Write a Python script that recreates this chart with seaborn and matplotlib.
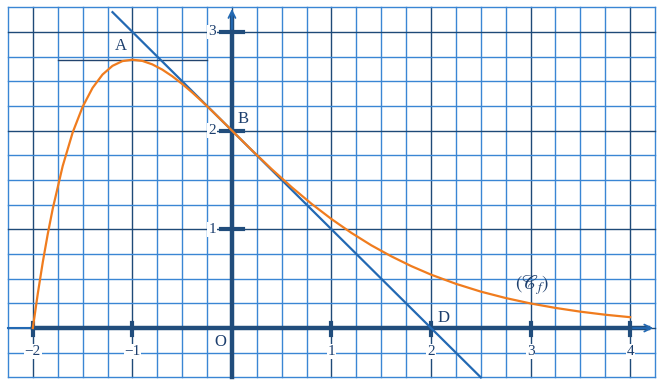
import numpy as np
import pandas as pd
import matplotlib.pyplot as plt
import seaborn as sns

# --- data ---
curve_x = [-2.0, -1.95, -1.9, -1.85, -1.8, -1.7, -1.6, -1.5, -1.4, -1.3, -1.2, -1.1,
           -1.0, -0.9, -0.8, -0.7, -0.6, -0.5, -0.4, -0.3, -0.2, -0.1, 0.0,
           0.2, 0.4, 0.6, 0.8, 1.0, 1.2, 1.4, 1.6, 1.8, 2.0,
           2.25, 2.5, 2.75, 3.0, 3.25, 3.5, 3.75, 4.0]
curve_y = [0.0, 0.351, 0.669, 0.954, 1.210, 1.642, 1.981, 2.241, 2.433, 2.568, 2.656, 2.704,
           2.718, 2.706, 2.671, 2.618, 2.551, 2.473, 2.387, 2.295, 2.199, 2.100, 2.0,
           1.801, 1.609, 1.427, 1.258, 1.104, 0.964, 0.838, 0.727, 0.628, 0.541,
           0.448, 0.369, 0.304, 0.249, 0.204, 0.166, 0.135, 0.110]

tangent_x = [-1.2, 2.5]
tangent_y = [3.2, -0.5]

horiz_x = [-1.75, -0.25]
horiz_y = [2.718, 2.718]

xticks = [-2, -1, 1, 2, 3, 4]
xtick_labels = ["\u22122", "\u22121", "1", "2", "3", "4"]
yticks = [1, 2, 3]
ytick_labels = ["1", "2", "3"]

points = {"A": (-1.12, 2.86), "B": (0.11, 2.12), "D": (2.13, 0.1), "O": (-0.12, -0.14)}

# --- style ---
minor_c = "#3a86d4"
major_c = "#1f4a78"
axis_c = "#214d7c"
text_c = "#1d3f6e"
curve_c = "#f07c1e"
line_c = "#2369b3"
serif = "Liberation Serif"

plt.rcParams["mathtext.fontset"] = "stix"

fig = plt.figure(figsize=(6.61, 3.86), dpi=100)
ax = fig.add_axes([0, 0, 1, 1])
ax.set_xlim(-2.330, 4.310)
ax.set_ylim(-0.587, 3.323)
ax.axis("off")

# grid
x0, x1, y0, y1 = -2.25, 4.25, -0.5, 3.25
for gx in np.arange(x0, x1 + 0.01, 0.25):
    major = abs(gx - round(gx)) < 1e-6
    ax.plot([gx, gx], [y0, y1], color=major_c if major else minor_c,
            lw=1.0, zorder=1)
for gy in np.arange(y0, y1 + 0.01, 0.25):
    major = abs(gy - round(gy)) < 1e-6
    ax.plot([x0, x1], [gy, gy], color=major_c if major else minor_c,
            lw=1.0, zorder=1)

# axes
ax.plot([-2.25, -2], [0, 0], color=line_c, lw=1.5, zorder=3)
ax.plot([-2, 4.18], [0, 0], color=axis_c, lw=3.2, zorder=3)
ax.plot([0, 0], [-0.5, 3.15], color=axis_c, lw=3.2, zorder=3)
ax.annotate("", xy=(4.26, 0), xytext=(4.0, 0),
            arrowprops=dict(arrowstyle="->,head_length=0.5,head_width=0.25",
                            color=line_c, lw=1.3), zorder=4)
ax.annotate("", xy=(0, 3.26), xytext=(0, 3.0),
            arrowprops=dict(arrowstyle="->,head_length=0.5,head_width=0.25",
                            color=line_c, lw=1.3), zorder=4)

# tick marks and labels
box = dict(facecolor="white", edgecolor="none", pad=0.6)
for t, lab in zip(xticks, xtick_labels):
    ax.plot([t, t], [-0.07, 0.05], color=axis_c, lw=3, zorder=3)
    ax.text(t, -0.24, lab, ha="center", va="center", color=text_c,
            fontsize=11, family=serif, bbox=box, zorder=7)
for t, lab in zip(yticks, ytick_labels):
    ax.plot([-0.11, 0.11], [t, t], color=axis_c, lw=3, zorder=3)
    ax.text(-0.2, t, lab, ha="center", va="center", color=text_c,
            fontsize=11, family=serif, bbox=box, zorder=7)

# curve and lines
sns.lineplot(x=horiz_x, y=horiz_y, color="#22446e", lw=1.0, ax=ax, zorder=4)
sns.lineplot(x=tangent_x, y=tangent_y, color=line_c, lw=1.6, ax=ax, zorder=5)
sns.lineplot(x=curve_x, y=curve_y, color=curve_c, lw=1.6, ax=ax,
             sort=False, estimator=None, zorder=6)

for name, (px, py) in points.items():
    ax.text(px, py, name, ha="center", va="center", color=text_c,
            fontsize=12, family=serif, zorder=7)
ax.text(3.02, 0.44, r"$(\mathscr{C}_f)$", ha="center", va="center",
        color=text_c, fontsize=14, zorder=7)

ax.set_xlim(-2.330, 4.310)
ax.set_ylim(-0.587, 3.323)
fig.savefig("out.png", dpi=100)
